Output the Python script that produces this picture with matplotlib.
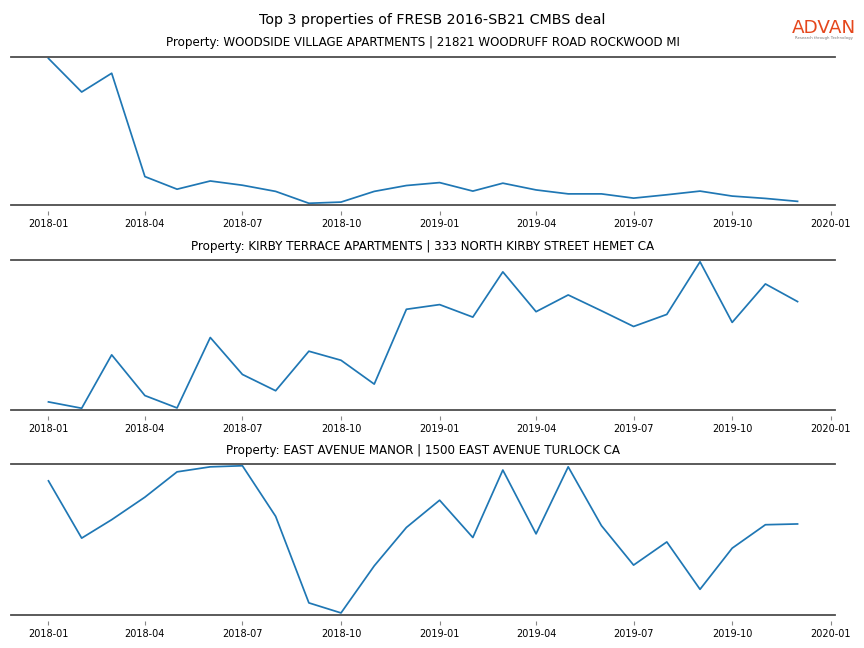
import matplotlib
matplotlib.use("Agg")
import matplotlib.pyplot as plt
import matplotlib.dates as mdates
from matplotlib.lines import Line2D
import pandas as pd

months = pd.date_range("2018-01-01", periods=24, freq="MS")

titles = [
    "Property: WOODSIDE VILLAGE APARTMENTS | 21821 WOODRUFF ROAD ROCKWOOD MI",
    "Property: KIRBY TERRACE APARTMENTS | 333 NORTH KIRBY STREET HEMET CA",
    "Property: EAST AVENUE MANOR | 1500 EAST AVENUE TURLOCK CA",
]

woodside = [993, 764, 892, 187, 101, 157, 128, 86, 5, 13, 86, 126,
            146, 88, 142, 96, 69, 69, 40, 63, 88, 54, 38, 18]
kirby = [53, 11, 365, 95, 13, 480, 235, 127, 389, 329, 171, 667,
         698, 615, 915, 651, 762, 657, 553, 633, 982, 580, 835, 718]
east_avenue = [883, 507, 628, 776, 942, 975, 982, 650, 82, 16, 325, 577,
               756, 511, 954, 535, 975, 589, 330, 482, 171, 441, 595, 600]

series = [woodside, kirby, east_avenue]

fig = plt.figure(figsize=(8.64, 6.48), dpi=100)
fig.suptitle("Top 3 properties of FRESB 2016-SB21 CMBS deal", fontsize=10.3, y=0.98)

# logo
fig.text(0.954, 0.957, "ADVAN", color="#e5471c", fontsize=13.2, ha="center", va="center")
fig.text(0.954, 0.941, "Research through Technology", color="#777777", fontsize=2.8,
         ha="center", va="center")

left, right = 11 / 864, 835 / 864
boxes = [(56.7, 205.0), (260.0, 410.0), (464.0, 614.7)]
spine_color = "#4d4d4d"

for (top, bot), title, vals in zip(boxes, titles, series):
    ax = fig.add_axes([left, 1 - bot / 648, right - left, (bot - top) / 648])
    ax.plot(months, vals, color="#1f77b4", lw=1.25)
    ax.margins(x=0.05, y=0.012)
    ax.set_title(title, fontsize=8.6, pad=7.5)
    ax.set_yticks([])
    for s in ("left", "right"):
        ax.spines[s].set_visible(False)
    ax.spines["top"].set_color(spine_color)
    ax.spines["top"].set_linewidth(1.3)
    ax.spines["bottom"].set_position(("outward", 4.5))
    ax.spines["bottom"].set_visible(False)
    ax.add_line(Line2D([0, 1], [0, 0], transform=ax.transAxes, color=spine_color,
                       lw=1.3, clip_on=False))
    ax.xaxis.set_major_locator(mdates.MonthLocator(bymonth=[1, 4, 7, 10]))
    ax.xaxis.set_major_formatter(mdates.DateFormatter("%Y-%m"))
    ax.tick_params(axis="x", length=3, width=0.8, color="#888888", pad=2.5,
                   labelsize=7)

fig.savefig("out.png", dpi=100)
